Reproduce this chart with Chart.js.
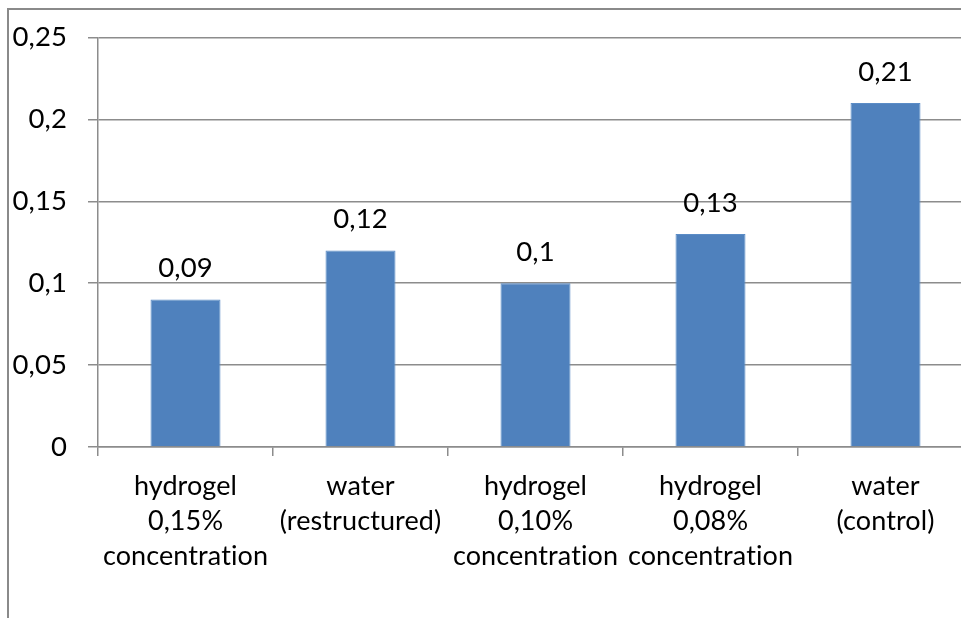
<!DOCTYPE html>
<html>
<head>
<meta charset="utf-8">
<script src="https://cdn.jsdelivr.net/npm/chart.js@4/dist/chart.umd.min.js"></script>
<style>
    body { margin: 0; background: #fff; overflow: hidden; }
    #wrap { position: relative; width: 961px; height: 618px; overflow: hidden; }
    #frame { position: absolute; left: 7px; top: 8px; width: 1100px; height: 700px;
             border-left: 2px solid #8a8a8a; border-top: 2px solid #8a8a8a; }
    canvas { position: absolute; left: 0; top: 0; }
</style>
</head>
<body>
<div id="wrap">
    <div id="frame"></div>
    <canvas id="chart" width="980" height="618"></canvas>
</div>
<script>
const categories = [
    ["hydrogel", "0,15%", "concentration"],
    ["water", "(restructured)"],
    ["hydrogel", "0,10%", "concentration"],
    ["hydrogel", "0,08%", "concentration"],
    ["water", "(control)"]
];
const values = [0.09, 0.12, 0.1, 0.13, 0.21];
const yTicks = [0, 0.05, 0.1, 0.15, 0.2, 0.25];

const fontFamily = "Lato, 'Open Sans', sans-serif";
const gridColor = "#8c8c8c";

function fmt(v) {
    return (Math.round(v * 100) / 100).toString().replace(".", ",");
}

// tiny letter spacing so Lato does not join "ti" into a ligature
const noLigatures = {
    id: "noLigatures",
    beforeDraw(chart) {
        chart.ctx.letterSpacing = "0.1px";
    }
};

// draws the value above each bar
const valueLabels = {
    id: "valueLabels",
    afterDatasetsDraw(chart) {
        const ctx = chart.ctx;
        const meta = chart.getDatasetMeta(0);
        ctx.save();
        ctx.font = "27.5px " + fontFamily;
        ctx.fillStyle = "#000";
        ctx.textAlign = "center";
        ctx.textBaseline = "middle";
        meta.data.forEach((bar, i) => {
            ctx.fillText(fmt(values[i]), bar.x, bar.y - 31);
        });
        ctx.restore();
    }
};

const ctx = document.getElementById("chart").getContext("2d");
new Chart(ctx, {
    type: "bar",
    data: {
        labels: categories,
        datasets: [{
            data: values,
            backgroundColor: "#4F81BD",
            borderColor: "#5b8cc6",
            borderWidth: 1,
            categoryPercentage: 1,
            barPercentage: 0.4
        }]
    },
    options: {
        responsive: false,
        animation: false,
        layout: { padding: { top: 35, right: 7, bottom: 0, left: 0 } },
        plugins: {
            legend: { display: false },
            tooltip: { enabled: false }
        },
        scales: {
            x: {
                afterFit(scale) { scale.height = 171; },
                grid: {
                    display: true,
                    drawOnChartArea: false,
                    offset: true,
                    color: gridColor,
                    lineWidth: 1.5,
                    tickLength: 9
                },
                border: { color: gridColor, width: 1.5 },
                ticks: {
                    color: "#000",
                    padding: 13,
                    maxRotation: 0,
                    autoSkip: false,
                    font: { family: fontFamily, size: 27, lineHeight: 1.3 }
                }
            },
            y: {
                min: 0,
                max: 0.25,
                afterFit(scale) { scale.width = 98; },
                afterBuildTicks(scale) {
                    scale.ticks = yTicks.map(v => ({ value: v }));
                },
                grid: {
                    color: gridColor,
                    lineWidth: 1.5,
                    tickLength: 10
                },
                border: { color: gridColor, width: 1.5 },
                ticks: {
                    color: "#000",
                    padding: 21,
                    font: { family: fontFamily, size: 27.5 },
                    callback: (v) => fmt(v)
                }
            }
        }
    },
    plugins: [noLigatures, valueLabels]
});
</script>
</body>
</html>
